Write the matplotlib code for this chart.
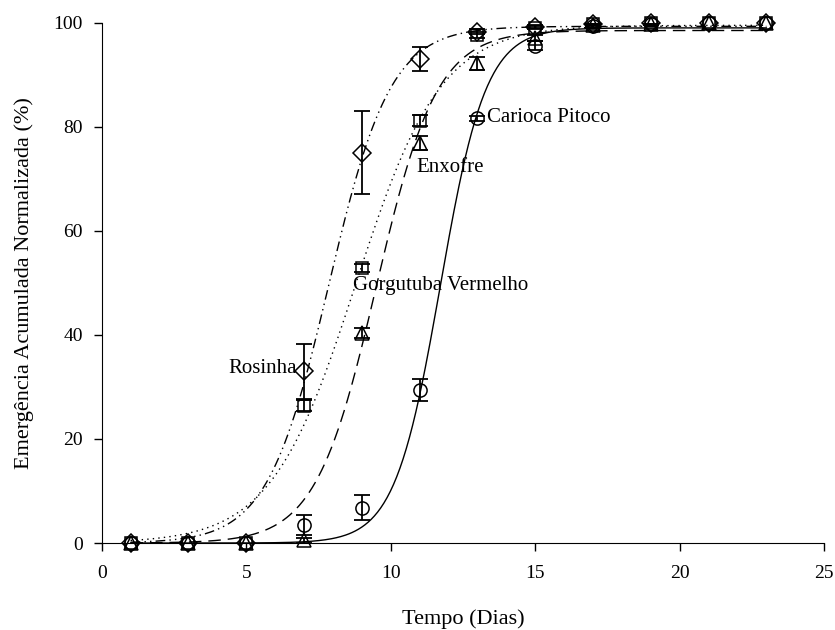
import numpy as np
import matplotlib
matplotlib.use("Agg")
import matplotlib.pyplot as plt

plt.rcParams["font.family"] = ["Liberation Serif", "DejaVu Serif"]

# ── Dados observados ───────────────────────────────────────────────────────────
dias = [1, 3, 5, 7, 9, 11, 13, 15, 17, 19, 21, 23]

rosinha      = [0, 0, 0, 33.0, 75.0, 93.0, 98.3, 99.2, 99.8, 100, 100, 100]
rosinha_err  = [0, 0, 0, 5.3, 8.0, 2.3, 0.5, 0.3, 0.2, 0, 0, 0]

gorgutuba     = [0, 0, 0, 26.4, 52.8, 81.2, 97.6, 99.0, 99.7, 100, 100, 100]
gorgutuba_err = [0, 0, 0, 1.0, 0.8, 1.0, 0.6, 0.3, 0.2, 0, 0, 0]

enxofre     = [0, 0, 0, 0.5, 40.4, 76.9, 92.2, 97.0, 99.5, 99.8, 100, 100]
enxofre_err = [0, 0, 0, 0.4, 1.0, 1.3, 1.3, 0.6, 0.3, 0.2, 0, 0]

carioca     = [0, 0, 0, 3.5, 6.8, 29.4, 81.6, 95.6, 99.3, 99.8, 100, 100]
carioca_err = [0, 0, 0, 1.9, 2.4, 2.1, 0.5, 0.8, 0.3, 0.2, 0, 0]

# parâmetros do ajuste logístico (a, x0, b)
fit_rosinha   = (99.3, 7.86, 1.07)
fit_gorgutuba = (99.5, 8.79, 1.47)
fit_enxofre   = (98.5, 9.50, 1.05)
fit_carioca   = (99.0, 11.72, 0.79)

rotulos = ["Rosinha", "Gorgutuba Vermelho", "Enxofre", "Carioca Pitoco"]


def logistica(x, a, x0, b):
    return a / (1 + np.exp(-(x - x0) / b))


fig = plt.figure(figsize=(8.35, 6.30), dpi=100)
ax = fig.add_axes([0.1218, 0.138, 0.8652, 0.826])

xx = np.linspace(1, 23, 400)
series = [
    (rosinha, rosinha_err, fit_rosinha, "D", (0, (7, 3, 1, 3, 1, 3)), 9.5),
    (gorgutuba, gorgutuba_err, fit_gorgutuba, "s", (0, (1, 3)), 8),
    (enxofre, enxofre_err, fit_enxofre, "^", (0, (9, 5)), 10),
    (carioca, carioca_err, fit_carioca, "o", "-", 9.5),
]

for y, err, fit, mk, ls, ms in series:
    ax.plot(xx, logistica(xx, *fit), color="black", lw=1.0, linestyle=ls)
    ax.plot(dias, y, linestyle="none", marker=mk, mfc="none", mec="black",
            ms=ms, mew=1.1, clip_on=False, zorder=3)
    # barras de erro só onde há desvio
    xe = [d for d, e in zip(dias, err) if e > 0]
    ye = [v for v, e in zip(y, err) if e > 0]
    ee = [e for e in err if e > 0]
    ax.errorbar(xe, ye, yerr=ee, fmt="none", ecolor="black", elinewidth=1.3,
                capsize=6, capthick=1.3)

# rótulos das curvas
ax.text(6.75, 33.5, rotulos[0], ha="right", va="center", fontsize=15)
ax.text(8.7, 49.4, rotulos[1], ha="left", va="center", fontsize=15)
ax.text(10.9, 72.1, rotulos[2], ha="left", va="center", fontsize=15)
ax.text(13.35, 81.7, rotulos[3], ha="left", va="center", fontsize=15)

ax.set_xlim(0, 25)
ax.set_ylim(0, 100)
ax.set_xticks([0, 5, 10, 15, 20, 25])
ax.set_yticks([0, 20, 40, 60, 80, 100])
ax.tick_params(direction="out", length=5.5, width=1, labelsize=14)
ax.tick_params(axis="x", pad=10)
ax.tick_params(axis="y", pad=8)
ax.spines["top"].set_visible(False)
ax.spines["right"].set_visible(False)

ax.set_xlabel("Tempo (Dias)", fontsize=16, labelpad=20)
ax.set_ylabel("Emergência Acumulada Normalizada (%)", fontsize=16, labelpad=14)

fig.savefig("out.png", dpi=100)
